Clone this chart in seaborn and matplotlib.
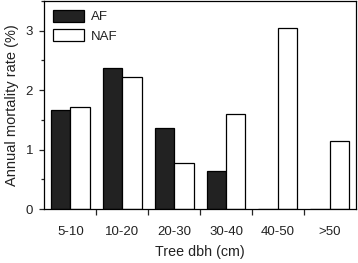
import matplotlib
matplotlib.use("Agg")
import matplotlib.pyplot as plt
import seaborn as sns
import pandas as pd
from matplotlib.ticker import MultipleLocator

categories = ["5-10", "10-20", "20-30", "30-40", "40-50", ">50"]
af_values = [1.67, 2.38, 1.37, 0.64, 0.0, 0.0]
naf_values = [1.71, 2.22, 0.78, 1.60, 3.04, 1.15]
series = ["AF", "NAF"]

df = pd.DataFrame({
    "dbh": categories * 2,
    "rate": af_values + naf_values,
    "group": ["AF"] * len(categories) + ["NAF"] * len(categories),
})

sns.set_style("ticks")
plt.rcParams["font.family"] = ["Liberation Sans", "DejaVu Sans"]

fig = plt.figure(figsize=(3.58, 2.63), dpi=100)
ax = fig.add_axes([0.124, 0.205, 0.8696, 0.791])

sns.barplot(data=df, x="dbh", y="rate", hue="group", order=categories,
            hue_order=series, palette={"AF": "#222222", "NAF": "white"},
            width=0.75, gap=0, edgecolor="black", linewidth=0.9,
            saturation=1, ax=ax)

ax.set_xlim(-0.5, 5.5)
ax.set_ylim(0, 3.5)

ax.set_xticks(range(len(categories)))
ax.set_xticklabels(categories, fontsize=9.5, color="#222222")
ax.tick_params(axis="x", which="major", length=0, pad=12)
ax.set_xticks([i + 0.5 for i in range(len(categories) - 1)], minor=True)
ax.tick_params(axis="x", which="minor", length=4.3, width=0.9, direction="out")

ax.set_yticks([0, 1, 2, 3])
ax.yaxis.set_minor_locator(MultipleLocator(0.5))
ax.tick_params(axis="y", which="major", length=3.6, width=0.9, labelsize=9.5,
               labelcolor="#222222", direction="out", pad=4.5)
ax.tick_params(axis="y", which="minor", length=2.2, width=0.9, direction="out")

ax.set_xlabel("Tree dbh (cm)", fontsize=10.3, labelpad=5, color="#222222")
ax.set_ylabel("Annual mortality rate (%)", fontsize=10.5, labelpad=5, color="#222222")

for s in ax.spines.values():
    s.set_visible(True)
    s.set_linewidth(0.9)
    s.set_color("black")

leg = ax.legend(loc="upper left", frameon=False, fontsize=9.5,
                handlelength=2.35, handleheight=1.05, labelspacing=0.45,
                borderaxespad=0.4, borderpad=0.25, handletextpad=0.55)
for t in leg.get_texts():
    t.set_color("#222222")

fig.savefig("out.png", dpi=100)
